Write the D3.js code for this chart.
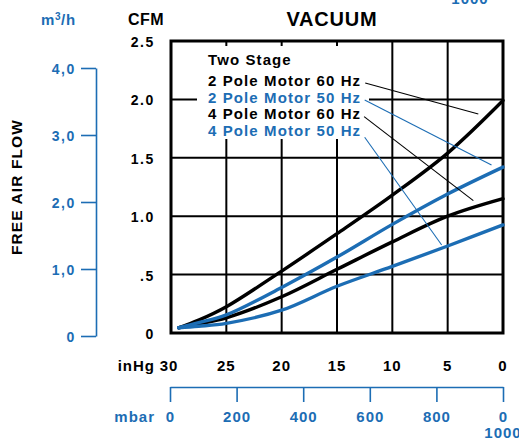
<!DOCTYPE html>
<html>
<head>
<meta charset="utf-8">
<script src="https://cdn.jsdelivr.net/npm/d3@7"></script>
<style>
  html, body { margin: 0; padding: 0; background: #fff; }
  svg { display: block; }
  text { font-family: "Liberation Sans", Arial, Helvetica, sans-serif; font-weight: bold; }
</style>
</head>
<body>
<svg id="chart" width="519" height="438"></svg>
<script>
// ---- data ----
const pressureInHg = [29.3, 27.5, 25, 20, 15, 10, 5, 0];
const seriesNames = ["2 Pole Motor 60 Hz", "2 Pole Motor 50 Hz", "4 Pole Motor 60 Hz", "4 Pole Motor 50 Hz"];
const pole2Hz60 = [0.045, 0.11, 0.225, 0.53, 0.85, 1.18, 1.54, 1.99];
const pole2Hz50 = [0.045, 0.088, 0.155, 0.39, 0.65, 0.93, 1.19, 1.42];
const pole4Hz60 = [0.045, 0.078, 0.13, 0.31, 0.545, 0.78, 1.0, 1.15];
const pole4Hz50 = [0.045, 0.058, 0.083, 0.195, 0.40, 0.57, 0.745, 0.925];
const seriesColors = ["black", "blue", "black", "blue"];
// leader line endpoints (inHg, CFM): from legend text to curve
const leaderFrom = [[12.45, 2.14], [12.5, 1.995], [12.55, 1.852], [12.5, 1.676]];
const leaderTo   = [[2.23, 1.875], [1.04, 1.438], [2.68, 1.133], [5.54, 0.753]];
const cfmTicks = [0, 0.5, 1.0, 1.5, 2.0, 2.5];
const cfmTickLabels = ["0", ".5", "1.0", "1.5", "2.0", "2.5"];
const m3hTicks = [0, 1, 2, 3, 4];
const m3hTickLabels = ["0", "1,0", "2,0", "3,0", "4,0"];
const inHgTicks = [30, 25, 20, 15, 10, 5, 0];
const mbarTicks = [0, 200, 400, 600, 800, 1000];
const mbarTickLabels = ["0", "200", "400", "600", "800", "0"];

const BLUE = "#1c6db4";
const colorOf = c => c === "blue" ? BLUE : "#000";

const svg = d3.select("#chart");

// ---- scales ----
const x = d3.scaleLinear().domain([30, 0]).range([171, 503]);
const y = d3.scaleLinear().domain([0, 2.5]).range([333, 41]);
const yM3h = d3.scaleLinear().domain([0, 4]).range([336, 68]);
const xMbar = d3.scaleLinear().domain([0, 1000]).range([170, 503]);

// ---- grid ----
const grid = svg.append("g");
grid.selectAll("line.v").data(inHgTicks.slice(1, -1)).join("line")
  .attr("x1", d => x(d)).attr("x2", d => x(d))
  .attr("y1", y(0)).attr("y2", y(2.5))
  .attr("stroke", "#000").attr("stroke-width", 2);
grid.selectAll("line.h").data(cfmTicks.slice(1, -1)).join("line")
  .attr("x1", x(30)).attr("x2", x(0))
  .attr("y1", d => y(d)).attr("y2", d => y(d))
  .attr("stroke", "#000").attr("stroke-width", 2);

// ---- legend box (white backdrop) ----
svg.append("rect")
  .attr("x", 197).attr("y", 46).attr("width", 172).attr("height", 93)
  .attr("fill", "#fff");

// ---- frame ----
svg.append("rect")
  .attr("x", x(30)).attr("y", y(2.5))
  .attr("width", x(0) - x(30)).attr("height", y(0) - y(2.5))
  .attr("fill", "none").attr("stroke", "#000").attr("stroke-width", 3);

// ---- curves ----
const allSeries = [pole2Hz60, pole2Hz50, pole4Hz60, pole4Hz50];
const line = d3.line().x(d => x(d[0])).y(d => y(d[1])).curve(d3.curveCatmullRom.alpha(0.5));
const order = [0, 2, 1, 3];
order.forEach(i => {
  const pts = pressureInHg.map((p, k) => [p, allSeries[i][k]]);
  svg.append("path").datum(pts)
    .attr("d", line)
    .attr("fill", "none")
    .attr("stroke", colorOf(seriesColors[i]))
    .attr("stroke-width", 3.4)
    .attr("stroke-linecap", "round");
});

// ---- leader lines ----
leaderFrom.forEach((f, i) => {
  svg.append("line")
    .attr("x1", x(f[0])).attr("y1", y(f[1]))
    .attr("x2", x(leaderTo[i][0])).attr("y2", y(leaderTo[i][1]))
    .attr("stroke", colorOf(seriesColors[i])).attr("stroke-width", 1.1);
});

// ---- legend text ----
const lg = svg.append("g").style("font-size", "15px").style("letter-spacing", "1.1px");
lg.append("text").attr("x", 208).attr("y", 65).attr("fill", "#000").text("Two Stage");
const legendY = [86, 102.5, 119, 136];
seriesNames.forEach((n, i) => {
  lg.append("text").attr("x", 208).attr("y", legendY[i])
    .attr("fill", colorOf(seriesColors[i])).text(n);
});

// ---- title ----
svg.append("text").attr("x", 332).attr("y", 26).attr("text-anchor", "middle")
  .style("font-size", "20px").style("letter-spacing", "0.8px").text("VACUUM");

// ---- CFM axis labels ----
svg.append("text").attr("x", 128).attr("y", 25)
  .style("font-size", "16px").style("letter-spacing", "0.5px").text("CFM");
svg.append("g").selectAll("text").data(cfmTicks).join("text")
  .attr("x", 155).attr("y", d => y(d) + 6)
  .attr("text-anchor", "end")
  .style("font-size", "14px").style("letter-spacing", "1.6px")
  .text((d, i) => cfmTickLabels[i]);

// ---- m3/h axis ----
const mt = svg.append("text").attr("x", 41).attr("y", 25).attr("fill", BLUE)
  .style("font-size", "15px").style("letter-spacing", "0.6px");
mt.append("tspan").text("m");
mt.append("tspan").attr("dy", -5).style("font-size", "10px").text("3");
mt.append("tspan").attr("dy", 5).text("/h");

const mAxis = svg.append("g").attr("transform", "translate(96,0)")
  .call(d3.axisLeft(yM3h).tickValues(m3hTicks).tickSize(15).tickSizeOuter(0)
        .tickFormat((d, i) => m3hTickLabels[i]));
mAxis.select(".domain").attr("stroke", BLUE).attr("stroke-width", 1.6);
mAxis.selectAll(".tick line").attr("stroke", BLUE).attr("stroke-width", 1.6);
mAxis.selectAll(".tick text").attr("fill", BLUE).attr("x", -20).attr("dy", "0.38em")
  .style("font-size", "14px").style("letter-spacing", "1.6px")
  .style("font-family", "'Liberation Sans', Arial, sans-serif").style("font-weight", "bold");

// ---- FREE AIR FLOW ----
svg.append("text")
  .attr("transform", "translate(22,187) rotate(-90)")
  .attr("text-anchor", "middle")
  .style("font-size", "15.5px").style("letter-spacing", "1.1px")
  .text("FREE AIR FLOW");

// ---- inHg axis ----
svg.append("text").attr("x", 155).attr("y", 371).attr("text-anchor", "end")
  .style("font-size", "15px").style("letter-spacing", "1px").text("inHg");
svg.append("g").selectAll("text").data(inHgTicks).join("text")
  .attr("x", (d, i) => x(d) - (i === 0 ? 2 : 0)).attr("y", 371)
  .attr("text-anchor", "middle")
  .style("font-size", "15px").style("letter-spacing", "1px")
  .text(d => d);

// ---- mbar axis ----
const bAxis = svg.append("g").attr("transform", "translate(0,387)")
  .call(d3.axisBottom(xMbar).tickValues(mbarTicks).tickSize(15).tickSizeOuter(0)
        .tickFormat((d, i) => mbarTickLabels[i]));
bAxis.select(".domain").attr("stroke", BLUE).attr("stroke-width", 1.6);
bAxis.selectAll(".tick line").attr("stroke", BLUE).attr("stroke-width", 1.6);
bAxis.selectAll(".tick text").attr("fill", BLUE).attr("y", 24).attr("dy", "0.71em")
  .style("font-size", "15px").style("letter-spacing", "1px")
  .style("font-family", "'Liberation Sans', Arial, sans-serif").style("font-weight", "bold");
svg.append("text").attr("x", 155).attr("y", 422).attr("text-anchor", "end")
  .attr("fill", BLUE).style("font-size", "15px").style("letter-spacing", "1px").text("mbar");
svg.append("text").attr("x", xMbar(1000)).attr("y", 437.5).attr("text-anchor", "middle")
  .attr("fill", BLUE).style("font-size", "15px").style("letter-spacing", "1px").text("1000");
// partially visible label at the very top edge
svg.append("text").attr("x", 470).attr("y", 4).attr("text-anchor", "middle")
  .attr("fill", BLUE).style("font-size", "15px").style("letter-spacing", "1px").text("1000");
</script>
</body>
</html>
